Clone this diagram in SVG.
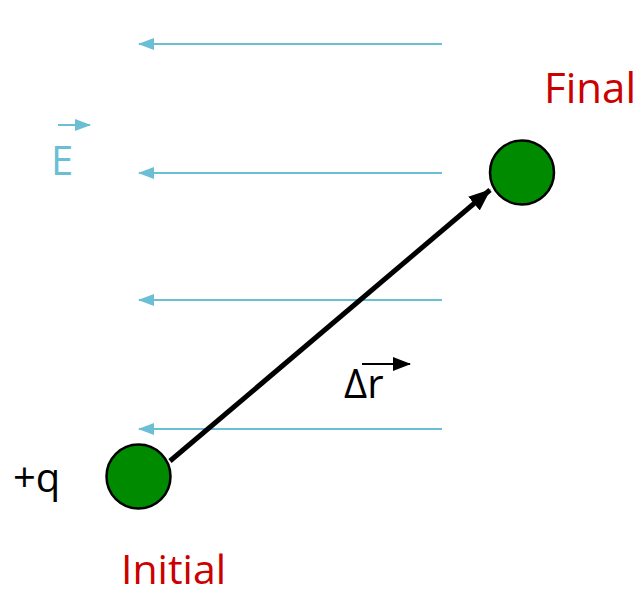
<svg xmlns="http://www.w3.org/2000/svg" width="641" height="594" viewBox="0 0 641 594">
<defs>
<marker id="bh" markerWidth="16" markerHeight="12" refX="15" refY="6" orient="auto" markerUnits="userSpaceOnUse"><path d="M0,0 L16,6 L0,12 Z" fill="#6bbfd4"/></marker>
<marker id="kh" markerWidth="22" markerHeight="18" refX="21" refY="9" orient="auto" markerUnits="userSpaceOnUse"><path d="M0,0 L22,9 L0,18 Z" fill="#000"/></marker>
<marker id="kh2" markerWidth="18" markerHeight="14" refX="17" refY="7" orient="auto" markerUnits="userSpaceOnUse"><path d="M0,0 L18,7 L0,14 Z" fill="#000"/></marker>
</defs>
<style>
.f{stroke:#6bbfd4;stroke-width:2;fill:none}
.c{fill:#008a00;stroke:#000;stroke-width:2.5}
.t{font-family:"Open Sans","Liberation Sans",sans-serif}
.red{fill:#cc0000;font-size:42px}
</style>
<g id="field">
<line class="f" x1="442" y1="44" x2="139" y2="44" marker-end="url(#bh)"/>
<line class="f" x1="442" y1="173" x2="139" y2="173" marker-end="url(#bh)"/>
<line class="f" x1="442" y1="300" x2="139" y2="300" marker-end="url(#bh)"/>
<line class="f" x1="442" y1="429" x2="139" y2="429" marker-end="url(#bh)"/>
</g>
<g id="connectors">
<line x1="170" y1="461" x2="490" y2="190" stroke="#000" stroke-width="5" marker-end="url(#kh)"/>
</g>
<g id="initial">
<circle class="c" cx="138.5" cy="476.5" r="32"/>
<text class="t" x="13" y="492" font-size="40" fill="#000">+q</text>
<text class="t" x="121" y="584" font-size="41" fill="#cc0000">Initial</text>
</g>
<g id="final">
<circle class="c" cx="522" cy="172.5" r="32"/>
<text class="t red" x="544" y="103">Final</text>
</g>
<g id="E-label">
<line class="f" x1="58" y1="125" x2="90" y2="125" marker-end="url(#bh)"/>
<text class="t" x="51" y="175" font-size="40" fill="#6bbfd4">E</text>
</g>
<g id="dr-label">
<line x1="362" y1="364" x2="410" y2="364" stroke="#000" stroke-width="2" marker-end="url(#kh2)"/>
<text class="t" x="344" y="398" font-size="40" fill="#000">Δr</text>
</g>
</svg>
